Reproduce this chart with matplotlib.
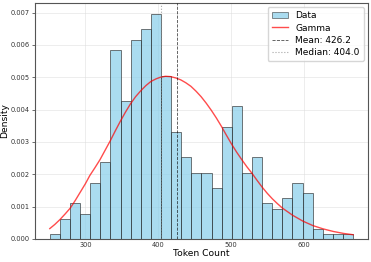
import numpy as np
import matplotlib
matplotlib.use("Agg")
import matplotlib.pyplot as plt
from matplotlib.patches import Patch
from matplotlib.lines import Line2D

# Histogram data (density per bin), 30 bins spanning min..max token count
token_min = 251.0
token_max = 668.0
n_bins = 30
density = [0.00014, 0.00063, 0.00110, 0.00078, 0.00173, 0.00237, 0.00584, 0.00426,
           0.00615, 0.00648, 0.00695, 0.00505, 0.00331, 0.00253, 0.00205, 0.00205,
           0.00157, 0.00346, 0.00410, 0.00205, 0.00253, 0.00110, 0.00094, 0.00126,
           0.00173, 0.00141, 0.00030, 0.00014, 0.00014, 0.00014]

# Gamma fit curve
gamma_x = [251, 258, 265, 272, 279, 286, 293, 300, 306, 313, 320, 327, 334, 341, 348,
           355, 362, 369, 376, 383, 390, 397, 403, 410, 417, 424, 431, 438, 445,
           452, 459, 466, 473, 480, 487, 494, 501, 508, 515, 522, 529, 536, 543,
           550, 557, 564, 571, 585, 599, 613, 627, 641, 655, 668]
gamma_y = [0.00032, 0.00045, 0.00060, 0.00077, 0.00095, 0.00119, 0.00145, 0.00171,
           0.00196, 0.00220, 0.00245, 0.00274, 0.00303, 0.00334, 0.00364, 0.00392,
           0.00418, 0.00440, 0.00458, 0.00474, 0.00487, 0.00495, 0.00500, 0.00503,
           0.00502, 0.00498, 0.00492, 0.00483, 0.00472, 0.00457, 0.00440, 0.00420,
           0.00398, 0.00374, 0.00348, 0.00320, 0.00293, 0.00268, 0.00245, 0.00223,
           0.00203, 0.00181, 0.00160, 0.00141, 0.00124, 0.00109, 0.00095, 0.00073,
           0.00055, 0.00041, 0.00031, 0.00023, 0.00017, 0.00013]

mean_val = 426.2
median_val = 404.0

edges = np.linspace(token_min, token_max, n_bins + 1)
widths = np.diff(edges)

fig = plt.figure(figsize=(3.71, 2.62), dpi=100)
ax = fig.add_axes([0.094, 0.088, 0.898, 0.901])

ax.bar(edges[:-1], density, width=widths, align='edge', color='skyblue', alpha=0.7,
       edgecolor='#222222', linewidth=0.6, zorder=2)
ax.plot(gamma_x, gamma_y, color='red', alpha=0.7, linewidth=1.0, zorder=3)
ax.axvline(mean_val, color='black', linestyle='--', linewidth=0.6, alpha=0.7, zorder=4)
ax.axvline(median_val, color='gray', linestyle=':', linewidth=0.8, alpha=0.7, zorder=4)

ax.set_xlim(230.5, 688.5)
ax.set_ylim(0, 0.0073)
ax.set_xticks([300, 400, 500, 600])
ax.set_yticks([0.000, 0.001, 0.002, 0.003, 0.004, 0.005, 0.006, 0.007])
ax.set_yticklabels(['0.000', '0.001', '0.002', '0.003', '0.004', '0.005', '0.006', '0.007'])
ax.tick_params(axis='both', labelsize=4.8, length=2, width=0.5, colors='#333333', pad=2)
ax.tick_params(axis='x', length=0)
ax.grid(True, color='#dddddd', linewidth=0.6, alpha=0.6, zorder=0)
ax.set_axisbelow(True)
for s in ax.spines.values():
    s.set_color('#555555')
    s.set_linewidth(0.8)

ax.set_xlabel('Token Count', fontsize=6.6, labelpad=1)
ax.set_ylabel('Density', fontsize=6.6, labelpad=1)

handles = [
    Patch(facecolor='skyblue', alpha=0.7, edgecolor='#222222', linewidth=0.5),
    Line2D([], [], color='red', alpha=0.7, linewidth=1.0),
    Line2D([], [], color='black', linestyle='--', linewidth=0.6, alpha=0.7),
    Line2D([], [], color='gray', linestyle=':', linewidth=0.8, alpha=0.7),
]
labels = ['Data', 'Gamma', f'Mean: {mean_val:.1f}', f'Median: {median_val:.1f}']
ax.legend(handles, labels, loc='upper right', fontsize=6.5, frameon=True,
          framealpha=0.8, edgecolor='#cccccc', fancybox=True, handlelength=1.8,
          borderpad=0.45, labelspacing=0.35, handletextpad=0.8)

fig.savefig('out.png', dpi=100)
